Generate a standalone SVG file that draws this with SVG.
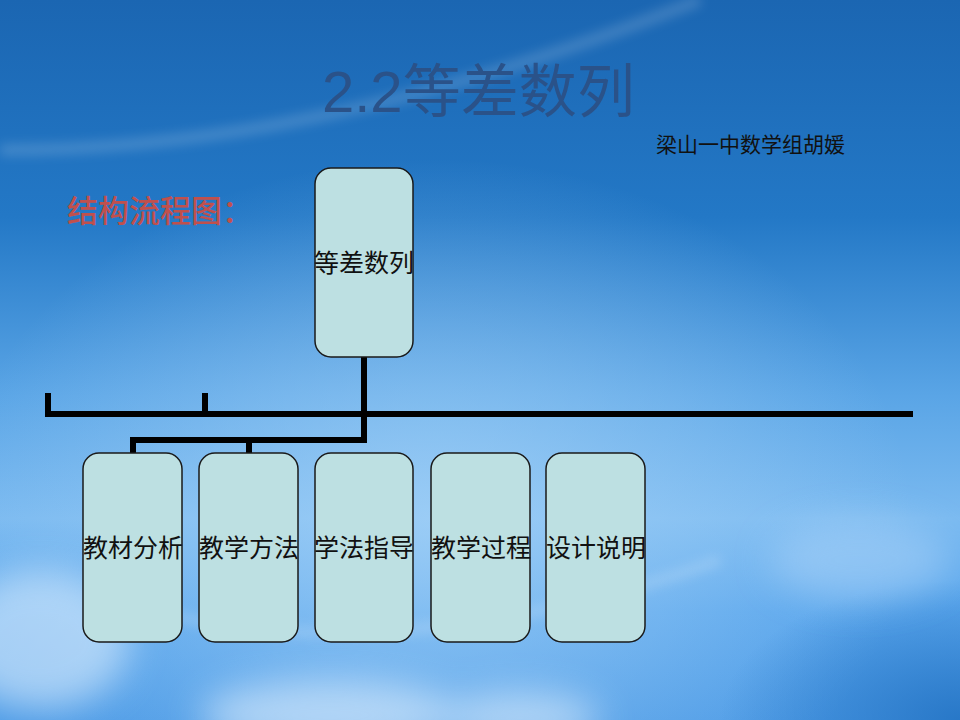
<svg xmlns="http://www.w3.org/2000/svg" width="960" height="720" viewBox="0 0 960 720">
<defs>
<linearGradient id="sky" x1="0" y1="0" x2="0" y2="1">
<stop offset="0" stop-color="#1b66b2"/>
<stop offset="0.3" stop-color="#2378c6"/>
<stop offset="0.55" stop-color="#5aa5e6"/>
<stop offset="0.72" stop-color="#7bbaf0"/>
<stop offset="0.85" stop-color="#5aa6ec"/>
<stop offset="1" stop-color="#4d9be6"/>
</linearGradient>
<radialGradient id="glow" cx="0.45" cy="0.72" r="0.5">
<stop offset="0" stop-color="#a8d4f8" stop-opacity="0.7"/>
<stop offset="1" stop-color="#a8d4f8" stop-opacity="0"/>
</radialGradient>
<radialGradient id="dark" cx="1" cy="1" r="0.5">
<stop offset="0" stop-color="#1f6fc0" stop-opacity="0.8"/>
<stop offset="1" stop-color="#1f6fc0" stop-opacity="0"/>
</radialGradient>
<filter id="blur" x="-50%" y="-50%" width="200%" height="200%">
<feGaussianBlur stdDeviation="18"/>
</filter>
<filter id="blur2" x="-50%" y="-50%" width="200%" height="200%">
<feGaussianBlur stdDeviation="6"/>
</filter>
<style>
.box{fill:#bde0e2;stroke:#1a1a1a;stroke-width:1.5}
.lbl{font-family:"Noto Sans CJK SC","Noto Sans CJK JP",sans-serif;fill:#111;text-anchor:middle}
.conn{fill:none;stroke:#000;stroke-width:6;stroke-linejoin:miter;stroke-linecap:butt}
</style>
</defs>
<rect width="960" height="720" fill="url(#sky)"/>
<rect width="960" height="720" fill="url(#glow)"/>
<rect x="480" y="440" width="480" height="280" fill="url(#dark)"/>
<g opacity="0.55" filter="url(#blur)">
<ellipse cx="40" cy="640" rx="90" ry="70" fill="#e8f4ff"/>
<ellipse cx="330" cy="715" rx="130" ry="35" fill="#eef7ff"/>
<ellipse cx="520" cy="718" rx="80" ry="25" fill="#eef7ff"/>
<ellipse cx="860" cy="560" rx="90" ry="40" fill="#a8d2f8"/>
</g>
<g opacity="0.18" filter="url(#blur2)" fill="none" stroke="#ffffff" stroke-width="10">
<path d="M0,150 C200,150 420,110 700,0"/>
<path d="M100,590 C250,660 500,640 720,560"/>
</g>
<text x="322" y="112" font-family="Liberation Sans,'Noto Sans CJK SC',sans-serif" font-size="58" fill="#2a5289">2.2<tspan font-family="'Noto Sans CJK SC',sans-serif">等差数列</tspan></text>
<text x="656" y="152" font-family="'Noto Sans CJK SC',sans-serif" font-size="21" fill="#111">梁山一中数学组胡媛</text>
<text x="67" y="222" font-family="'Noto Sans CJK SC',sans-serif" font-size="31" fill="#c0504d" font-weight="500">结构流程图：</text>
<g id="connectors">
<path class="conn" d="M48,393 V414 H913"/>
<path class="conn" d="M205,393 V414"/>
<path class="conn" d="M364,357 V440 H133 V453"/>
<path class="conn" d="M249,440 V453"/>
</g>
<g id="n0"><rect class="box" x="315" y="168" width="98" height="189" rx="16"/><text class="lbl" x="364" y="272" font-size="25">等差数列</text></g>
<g id="n1"><rect class="box" x="83" y="453" width="99" height="189" rx="16"/><text class="lbl" x="133" y="557" font-size="25">教材分析</text></g>
<g id="n2"><rect class="box" x="199" y="453" width="99" height="189" rx="16"/><text class="lbl" x="249" y="557" font-size="25">教学方法</text></g>
<g id="n3"><rect class="box" x="315" y="453" width="98" height="189" rx="16"/><text class="lbl" x="364" y="557" font-size="25">学法指导</text></g>
<g id="n4"><rect class="box" x="431" y="453" width="99" height="189" rx="16"/><text class="lbl" x="481" y="557" font-size="25">教学过程</text></g>
<g id="n5"><rect class="box" x="546" y="453" width="99" height="189" rx="16"/><text class="lbl" x="596" y="557" font-size="25">设计说明</text></g>
</svg>
